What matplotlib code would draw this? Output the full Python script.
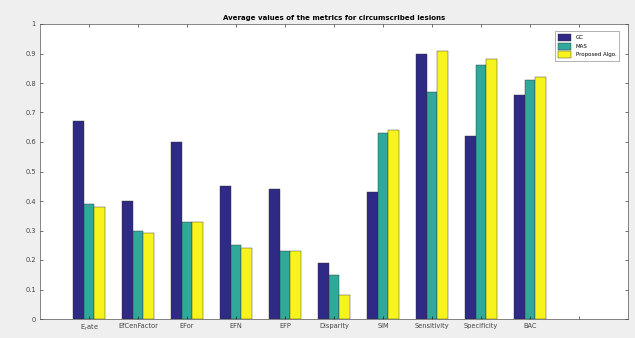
import matplotlib.pyplot as plt
import numpy as np

# Average metric values per method
metrics = [r"E$_{r}$ate", "EfCenFactor", "EFor", "EFN", "EFP",
           "Disparity", "SIM", "Sensitivity", "Specificity", "BAC"]
gc = [0.67, 0.40, 0.60, 0.45, 0.44, 0.19, 0.43, 0.90, 0.62, 0.76]
mas = [0.39, 0.30, 0.33, 0.25, 0.23, 0.15, 0.63, 0.77, 0.86, 0.81]
proposed = [0.38, 0.29, 0.33, 0.24, 0.23, 0.08, 0.64, 0.91, 0.88, 0.82]
methods = ["GC", "MAS", "Proposed Algo."]
colors = ["#2f2a85", "#30a89a", "#f6f41c"]

fig = plt.figure(figsize=(6.35, 3.38), dpi=100, facecolor="#efefef")
ax = fig.add_axes([40 / 635, 19 / 338, 588 / 635, 295 / 338])

x = np.arange(1, len(metrics) + 1)
w = 0.22
for i, (vals, name) in enumerate(zip([gc, mas, proposed], methods)):
    ax.bar(x + (i - 1) * w, vals, width=w, color=colors[i], label=name,
           edgecolor="#333333", linewidth=0.3)

ax.set_xlim(0, 12)
ax.set_ylim(0, 1)
ax.set_xticks(np.arange(1, 12))
ax.set_xticklabels(metrics + [""], fontsize=4.8, color="#444444")
ax.set_yticks(np.arange(0, 1.01, 0.1))
ax.set_yticklabels(["0"] + ["%.1f" % v for v in np.arange(0.1, 0.95, 0.1)] + ["1"],
                   fontsize=4.8, color="#444444")
ax.tick_params(direction="in", length=2.5, width=0.4, top=True, right=True, pad=3)
for s in ax.spines.values():
    s.set_linewidth(0.5)
    s.set_color("#555555")

ax.set_title("Average values of the metrics for circumscribed lesions", fontsize=5,
             fontweight="bold", pad=3)
leg = ax.legend(loc="upper right", fontsize=4, frameon=True, fancybox=False,
                borderpad=0.5, handlelength=2.4, handleheight=1.6, labelspacing=0.25,
                bbox_to_anchor=(0.99, 0.985))
leg.get_frame().set_linewidth(0.4)
leg.get_frame().set_edgecolor("#555555")

fig.savefig("out.png", dpi=100, facecolor=fig.get_facecolor())
